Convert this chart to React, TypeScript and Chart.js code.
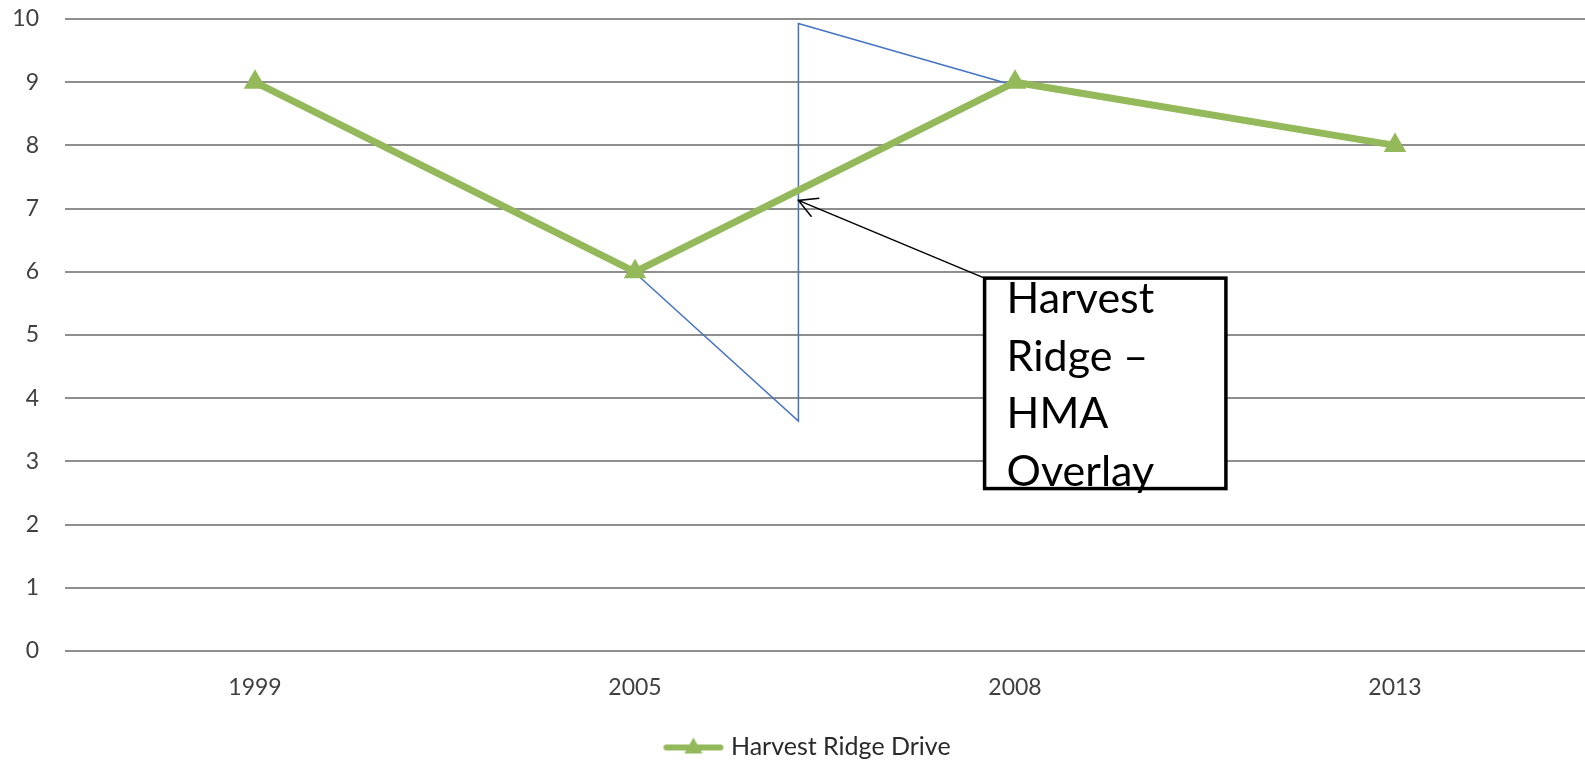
import React, { useEffect, useRef } from 'react';
import { Chart, registerables } from 'chart.js';

Chart.register(...registerables);

// Series
const years = ['1999', '2005', '2008', '2013'];
const harvestRidgeDrive = [9, 6, 9, 8];
const seriesName = 'Harvest Ridge Drive';

// Value axis
const yMin = 0;
const yMax = 10;
const yStep = 1;

// Overlay outline, in (category index, value) units
const overlayIndex = [1.01, 1.43, 1.43, 1.98];
const overlayValue = [5.93, 3.64, 9.93, 8.98];

// Callout: arrow tip and box corners, in (category index, value) units
const arrowTip = [1.43, 7.13];
const calloutCorner = [1.92, 5.9];
const calloutFar = [2.555, 2.57];
const calloutLines = ['Harvest', 'Ridge –', 'HMA', 'Overlay'];

const GREEN = '#93B95A';
const FONT = 'Lato, "Open Sans", sans-serif';

// Nudges the bottom legend a little to the right of centre
const legendNudgePlugin = {
  id: 'legendNudge',
  afterLayout(chart: any) {
    if (chart.legend) chart.legend.left += 34;
  },
};

const overlayPlugin = {
  id: 'hmaOverlay',
  beforeDatasetsDraw(chart: any) {
    const { ctx, scales } = chart;
    const x = scales.x;
    const y = scales.y;
    ctx.save();
    ctx.strokeStyle = '#4472C4';
    ctx.lineWidth = 1.5;
    ctx.beginPath();
    overlayIndex.forEach((v, i) => {
      const px = x.getPixelForValue(v);
      const py = y.getPixelForValue(overlayValue[i]);
      if (i === 0) ctx.moveTo(px, py);
      else ctx.lineTo(px, py);
    });
    ctx.stroke();
    ctx.restore();
  },
  afterDatasetsDraw(chart: any) {
    const { ctx, scales } = chart;
    const x = scales.x;
    const y = scales.y;
    const bx = x.getPixelForValue(calloutCorner[0]);
    const by = y.getPixelForValue(calloutCorner[1]);
    const bx2 = x.getPixelForValue(calloutFar[0]);
    const by2 = y.getPixelForValue(calloutFar[1]);
    const tx = x.getPixelForValue(arrowTip[0]);
    const ty = y.getPixelForValue(arrowTip[1]);

    ctx.save();
    // arrow
    ctx.strokeStyle = '#000';
    ctx.lineWidth = 1.5;
    ctx.beginPath();
    ctx.moveTo(bx, by);
    ctx.lineTo(tx, ty);
    const ang = Math.atan2(by - ty, bx - tx);
    const head = 21;
    const spread = 0.5;
    ctx.moveTo(tx + head * Math.cos(ang - spread), ty + head * Math.sin(ang - spread));
    ctx.lineTo(tx, ty);
    ctx.lineTo(tx + head * Math.cos(ang + spread), ty + head * Math.sin(ang + spread));
    ctx.stroke();

    // box
    ctx.fillStyle = '#fff';
    ctx.fillRect(bx, by, bx2 - bx, by2 - by);
    ctx.lineWidth = 3.5;
    ctx.strokeRect(bx, by, bx2 - bx, by2 - by);

    // text
    ctx.fillStyle = '#000';
    ctx.font = `43px ${FONT}`;
    ctx.textBaseline = 'alphabetic';
    ctx.textAlign = 'left';
    calloutLines.forEach((line, i) => {
      ctx.fillText(line, bx + 22, by + 35 + i * 57.5);
    });
    ctx.restore();
  },
};

function makeLegendMarker(): HTMLCanvasElement {
  const c = document.createElement('canvas');
  c.width = 62;
  c.height = 24;
  const g = c.getContext('2d')!;
  g.strokeStyle = GREEN;
  g.lineWidth = 6;
  g.lineCap = 'round';
  g.beginPath();
  g.moveTo(4, 13);
  g.lineTo(58, 13);
  g.stroke();
  g.fillStyle = GREEN;
  g.beginPath();
  g.moveTo(31, 3);
  g.lineTo(40, 19);
  g.lineTo(22, 19);
  g.closePath();
  g.fill();
  return c;
}

export default function App() {
  const canvasRef = useRef<HTMLCanvasElement | null>(null);

  useEffect(() => {
    const canvas = canvasRef.current;
    if (!canvas) return;
    const marker = makeLegendMarker();
    const chart = new Chart(canvas, {
      type: 'line',
      data: {
        labels: years,
        datasets: [
          {
            label: seriesName,
            data: harvestRidgeDrive,
            borderColor: GREEN,
            backgroundColor: GREEN,
            borderWidth: 7,
            tension: 0,
            pointStyle: 'triangle',
            pointRadius: 13,
            pointBorderWidth: 0,
            pointBackgroundColor: GREEN,
            pointBorderColor: GREEN,
          },
        ],
      },
      options: {
        responsive: false,
        animation: false,
        devicePixelRatio: 1,
        layout: { autoPadding: false, padding: { top: 19, right: 0, left: 0, bottom: -7 } },
        plugins: {
          tooltip: { enabled: false },
          legend: {
            position: 'bottom',
            labels: {
              usePointStyle: true,
              pointStyle: marker as any,
              pointStyleWidth: 50,
              padding: 3,
              color: '#2a2a2a',
              font: { family: FONT, size: 25 },
            },
          },
        },
        scales: {
          x: {
            offset: true,
            grid: { display: false, drawTicks: false },
            border: { display: false },
            ticks: { color: '#404040', padding: 23, font: { family: FONT, size: 23 } },
            afterFit: (scale: any) => {
              scale.height = 80;
              scale.paddingLeft = 0;
              scale.paddingRight = 0;
            },
          },
          y: {
            min: yMin,
            max: yMax,
            grid: { color: '#8E8E8E', lineWidth: 2, drawTicks: false },
            border: { display: false },
            ticks: { stepSize: yStep, color: '#404040', padding: 26, font: { family: FONT, size: 23 } },
            afterFit: (scale: any) => {
              scale.width = 65;
              scale.paddingTop = 0;
              scale.paddingBottom = 0;
            },
          },
        },
      },
      plugins: [legendNudgePlugin, overlayPlugin],
    });
    return () => chart.destroy();
  }, []);

  return (
    <div style={{ position: 'absolute', left: 0, top: 0, width: 1585, height: 762, background: '#fff' }}>
      <canvas ref={canvasRef} width={1585} height={762} style={{ display: 'block' }} />
    </div>
  );
}
